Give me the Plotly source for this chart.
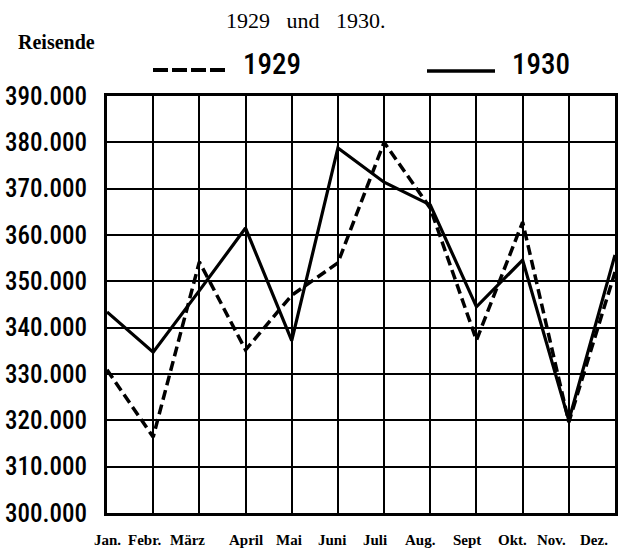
import plotly.graph_objects as go

months = ["Jan.", "Febr.", "März", "April", "Mai", "Juni", "Juli", "Aug.", "Sept", "Okt.", "Nov.", "Dez."]
reisende_1929 = [330900, 316400, 354200, 335200, 347000, 354000, 380000, 365800, 337300, 362800, 319600, 352000]
reisende_1930 = [343400, 334700, 348000, 361500, 337200, 378800, 371400, 366500, 344500, 354600, 320000, 355700]
y_ticks = [300000, 310000, 320000, 330000, 340000, 350000, 360000, 370000, 380000, 390000]
y_tick_text = ["300.000", "310.000", "320.000", "330.000", "340.000", "350.000",
               "360.000", "370.000", "380.000", "390.000"]

x_idx = list(range(len(months)))

# ---- layout geometry (pixels) ----
W, H = 630, 556
L, R, T, B = 107, 15, 96, 43
PW, PH = W - L - R, H - T - B


def px(xp):
    return (xp - L) / PW


def py(yp):
    return (H - B - yp) / PH


# printed month labels sit slightly off the grid lines (pixel centres)
label_px = [107, 144, 187, 246, 289, 332, 375, 420, 467, 512, 551, 594]

cond = "Roboto Condensed, Liberation Sans Narrow, DejaVu Sans Condensed, Roboto, sans-serif"
serif = "Liberation Serif, DejaVu Serif, serif"

fig = go.Figure()
fig.add_trace(go.Scatter(x=x_idx, y=reisende_1929, mode="lines", name="1929",
                         line=dict(color="black", width=3.5, dash="10px,5px")))
fig.add_trace(go.Scatter(x=x_idx, y=reisende_1930, mode="lines", name="1930",
                         line=dict(color="black", width=3.2)))

annotations = [dict(x=px(p), y=py(540), xref="paper", yref="paper", text="<b>" + m + "</b>",
                    showarrow=False, xanchor="center", yanchor="middle",
                    font=dict(family=serif, size=15, color="black"))
               for p, m in zip(label_px, months)]
annotations += [
    dict(x=px(16), y=py(42), xref="paper", yref="paper", text="<b>Reisende</b>",
         showarrow=False, xanchor="left", yanchor="middle",
         font=dict(family=serif, size=20, color="black")),
    dict(x=px(306), y=py(20), xref="paper", yref="paper",
         text="1929&nbsp;&nbsp; und&nbsp;&nbsp; 1930.",
         showarrow=False, xanchor="center", yanchor="middle",
         font=dict(family=serif, size=22, color="black")),
    dict(x=px(272), y=py(64), xref="paper", yref="paper", text=fig.data[0].name,
         showarrow=False, xanchor="center", yanchor="middle",
         font=dict(family=cond, size=29, color="black", weight=500)),
    dict(x=px(541), y=py(64), xref="paper", yref="paper", text=fig.data[1].name,
         showarrow=False, xanchor="center", yanchor="middle",
         font=dict(family=cond, size=29, color="black", weight=500)),
]

shapes = [
    dict(type="line", xref="paper", yref="paper", x0=px(153), x1=px(225), y0=py(70), y1=py(70),
         line=dict(color="black", width=4, dash="15px,4px")),
    dict(type="line", xref="paper", yref="paper", x0=px(427), x1=px(495), y0=py(71), y1=py(71),
         line=dict(color="black", width=3.5)),
]

fig.update_layout(
    width=W, height=H,
    margin=dict(l=L, r=R, t=T, b=B, autoexpand=False),
    paper_bgcolor="white", plot_bgcolor="white",
    showlegend=False,
    annotations=annotations,
    shapes=shapes,
    xaxis=dict(range=[0, 11], tickvals=x_idx, showticklabels=False, showgrid=True,
               gridcolor="black", gridwidth=2, zeroline=False,
               showline=True, linecolor="black", linewidth=3, mirror=True, ticks=""),
    yaxis=dict(range=[300000, 390000], tickvals=y_ticks, ticktext=y_tick_text,
               showgrid=True, gridcolor="black", gridwidth=2, zeroline=False,
               showline=True, linecolor="black", linewidth=3, mirror=True, ticks="",
               ticklabelstandoff=12,
               tickfont=dict(family=cond, size=25, color="black", weight=500)),
)

fig.write_html("out.html", config={"displayModeBar": False},
               post_script="document.body.style.margin='0px';")
